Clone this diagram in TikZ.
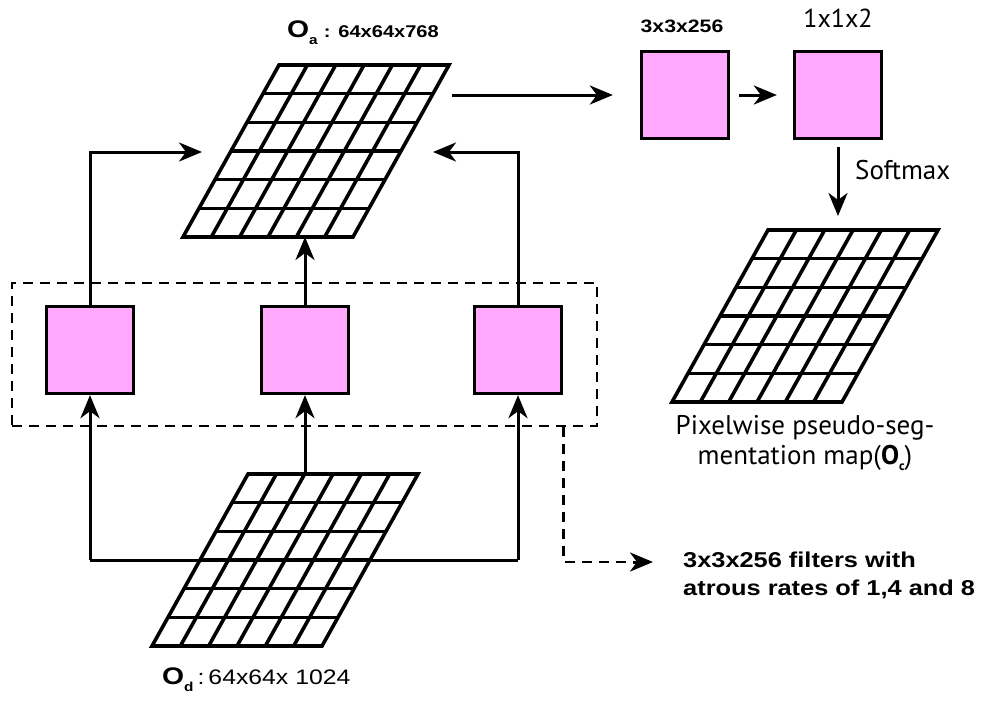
\documentclass[tikz,border=0pt]{standalone}
\usepackage{fontspec}
\setmainfont{Liberation Sans}[FakeStretch=1.18]
\newfontfamily\myriad{PT Sans}
\usetikzlibrary{arrows.meta}
\definecolor{filtpink}{RGB}{255,168,252}

% feature map: name, bottom-left x, y
\newcommand{\fmap}[3]{%
  \foreach \i in {1,...,5} {
    \draw[gridl] (#2+\i*170/6,#3) -- ++(96,-172);
    \draw[gridl] (#2+\i*96/6,#3-\i*172/6) -- ++(170,0);
  }
  \draw[gridl] (#2,#3) -- ++(170,0) -- ++(96,-172) -- ++(-170,0) -- cycle;
  \coordinate (#1-bot) at (#2+85,#3);
  \coordinate (#1-top) at (#2+181,#3-172);
}

\begin{document}
\begin{tikzpicture}
  [x=1pt,y=-1pt,
   gridl/.style={line width=3.6pt,line join=miter},
   filt/.style={draw,line width=3.3pt,fill=filtpink,minimum size=87pt,inner sep=0pt},
   arr/.style={line width=3pt,-{Stealth[length=23pt,width=19pt,inset=7pt]}},
   dashl/.style={line width=2.8pt,dash pattern=on 10pt off 7pt},
   every node/.style={inner sep=0pt}]
  \useasboundingbox (0,0) rectangle (983,702);

  % feature maps
  \fmap{oa}{183}{237}
  \fmap{od}{152}{646}
  \fmap{oc}{672}{402}

  % filters
  \node[filt] (fL) at (90,350) {};
  \node[filt] (fM) at (305,350) {};
  \node[filt] (fR) at (518,350) {};
  \node[filt] (c1) at (685,95) {};
  \node[filt] (c2) at (838,95) {};
  \node[draw,dashl,minimum width=585pt,minimum height=143pt] (grp) at (304.5,354.5) {};

  % free ends
  \coordinate (oa-w) at (202,152);
  \coordinate (oa-e) at (433,152);
  \coordinate (oa-out) at (452,95);
  \coordinate (od-w) at (200,560);
  \coordinate (od-e) at (370,560);
  \coordinate (note-in) at (653,562);

  % labels
  \node[anchor=west] (la) at (287,33)
    {\fontsize{24}{24}\selectfont\bfseries O\raisebox{-7pt}{\fontsize{13}{13}\selectfont a}\hspace{6pt}\fontsize{17}{17}\selectfont :\hspace{8pt}64x64x768};
  \node[anchor=west] (ld) at (162,680)
    {\fontsize{24}{24}\selectfont\bfseries O\raisebox{-7pt}{\fontsize{13}{13}\selectfont d}\hspace{4pt}\fontsize{21}{21}\selectfont\mdseries :\hspace{4pt}64x64x 1024};
  \node (l1) at (682,26) {\fontsize{18}{18}\selectfont\bfseries 3x3x256};
  \node (l2) at (838,18) {\fontsize{26}{26}\selectfont\myriad 1x1x2};
  \node[anchor=west] (sm) at (855,170) {\fontsize{27}{27}\selectfont\myriad Softmax};
  \node[align=center,font=\fontsize{27}{30}\selectfont\myriad] (lc) at (805,443)
    {Pixelwise pseudo-seg-\\mentation map(\textbf{O}\raisebox{-6pt}{\fontsize{13}{13}\selectfont\bfseries c})};
  \node[anchor=west,align=left,font=\fontsize{21.5}{28}\selectfont\bfseries] (note) at (683,575)
    {3x3x256 filters with\\atrous rates of 1,4 and 8};

  % connectors
  \draw[line width=3pt] (od-w) -- (fL.south |- od-w);
  \draw[line width=3pt] (od-e) -- (fR.south |- od-e);
  \foreach \from/\to in {fL/oa-w,fR/oa-e}
    \draw[arr] (\from.north) |- (\to);
  \foreach \f in {fL,fR}
    \draw[arr] (\f.south |- od-w) -- (\f.south);
  \draw[arr] (fM.south |- od-top) -- (fM.south);
  \draw[arr] (fM.north) -- (fM.north |- oa-bot);
  \draw[arr,shorten >=27pt] (oa-out) -- (c1.west);
  \draw[arr,shorten <=9pt,shorten >=16pt] (c1.east) -- (c2.west);
  \draw[arr,shorten <=7pt,shorten >=14pt] (c2.south) -- (c2.south |- oc-top);
  \draw[dashl] ([xshift=-35pt]grp.south east) |- ([xshift=-18pt]note-in);
  \draw[arr] ([xshift=-20pt]note-in) -- (note-in);
\end{tikzpicture}
\end{document}
